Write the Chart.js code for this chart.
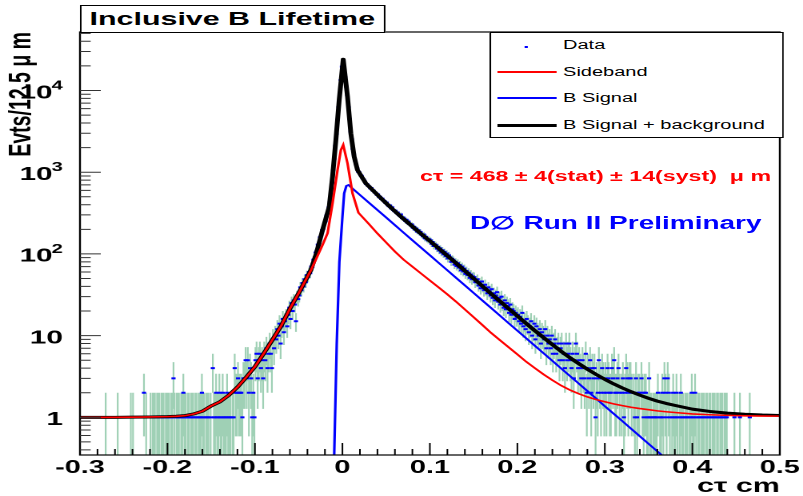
<!DOCTYPE html>
<html><head><meta charset="utf-8">
<script src="https://cdn.jsdelivr.net/npm/chart.js@4.4.1/dist/chart.umd.min.js"></script>
<style>
html,body{margin:0;padding:0;background:#fff;overflow:hidden;width:803px;height:496px;}
#wrap{position:absolute;left:0;top:0;width:502px;height:496px;transform:scaleX(1.5996);transform-origin:0 0;font-family:'Liberation Sans',Arial,sans-serif;}
#c{position:absolute;left:0;top:0;}
.box{position:absolute;background:#fff;border:1px solid #000;box-sizing:border-box;}
.t{position:absolute;white-space:pre;}
.ln{position:absolute;}
</style></head><body>
<div id="wrap">
<canvas id="c" width="502" height="496"></canvas>
<div class="box" style="left:49.5px;top:4.5px;width:191.5px;height:28px;text-align:center;font-weight:bold;font-size:19px;line-height:26px;">Inclusive B Lifetime</div>
<div class="box" style="left:305.9px;top:31.5px;width:184px;height:106px;"></div>
<div class="ln" style="left:328.2px;top:45.7px;width:1.4px;height:2px;background:#0000ff;"></div>
<div class="ln" style="left:310.7px;top:70.7px;width:36.9px;height:2px;background:#ff0000;"></div>
<div class="ln" style="left:310.7px;top:97.3px;width:36.9px;height:2px;background:#0000ff;"></div>
<div class="ln" style="left:310.7px;top:123.5px;width:36.9px;height:3px;background:#000;"></div>
<div class="t" style="left:352px;top:34.5px;height:20px;line-height:20px;font-size:12.5px;">Data</div>
<div class="t" style="left:352px;top:61.7px;height:20px;line-height:20px;font-size:12.5px;">Sideband</div>
<div class="t" style="left:352px;top:88px;height:20px;line-height:20px;font-size:12.5px;">B Signal</div>
<div class="t" style="left:352px;top:114.5px;height:20px;line-height:20px;font-size:12.5px;">B Signal + background</div>
<div class="t" style="left:262.6px;top:166.3px;height:20px;line-height:20px;font-size:14.5px;font-weight:bold;color:#ff0000;">cτ = 468 ± 4(stat) ± 14(syst)  μ m</div>
<div class="t" style="left:293.8px;top:211.3px;height:24px;line-height:24px;font-size:17.5px;font-weight:bold;color:#0000ff;">D∅ Run II Preliminary</div>
</div>
<script>
// histogram: 12.5 um bins from -0.3 cm
const binStart = -0.3;
const binWidth = 0.00125;
const countsA = [ // -0.30 .. -0.10
0,0,0,0,0,0,0,0,0,0, 0,0,0,0,0,0,0,0,0,0, 0,0,0,1,0,0,0,0,0,0, 0,0,0,0,1,0,0,0,0,0,
0,0,0,0,0,0,1,0,1,0, 0,0,0,0,0,0,0,0,2,0, 1,0,0,0,1,0,1,1,1,0, 1,1,1,0,1,1,1,0,1,1,
1,1,0,1,1,3,1,0,1,1, 1,0,1,1,2,1,1,0,1,1, 0,1,1,1,0,1,1,0,1,1, 1,2,1,1,0,1,1,1,0,1,
0,4,1,1,2,1,1,2,1,1, 2,1,1,1,2,1,1,1,0,1, 1,4,2,2,3,2,2,2,1,3, 3,5,3,5,2,4,3,1,2,1];
const countsB = [ // -0.10 .. 0.10
5,6,3,5,6,4,5,3,6,5, 7,4,6,8,6,4,9,7,10,9, 12,10,14,8,13,16,11,15,17,13, 18,22,16,25,20,27,24,15,30,28,
31,39,36,44,40,49,45,55,52,60, 58,70,69,85,86,104,108,130,134,160, 166,196,204,240,250,296,318,372,430,585, 730,1060,1460,2110,2930,4400,6280,9350,13450,19600,
22500,18900,14600,11150,8750,6270,4500,3140,2530,1930, 1650,1390,1250,1120,1010,995,920,905,840,815, 770,720,715,680,670,635,640,600,595,565, 560,530,535,495,500,470,475,450,445,420,
425,395,384,392,361,372,345,334,338,316, 321,300,292,304,275,280,271,254,262,240, 249,231,224,230,209,215,198,205,187,195, 180,186,171,165,173,155,162,150,146,151];
const countsC = [ // 0.10 .. 0.30
147,133,140,125,131,129,116,122,110,117, 104,111,99,106,94,101,88,96,91,80, 87,84,74,80,71,77,68,73,63,70, 61,66,57,62,55,59,51,56,49,53,
52,45,47,49,41,44,38,46,40,36, 42,37,33,39,35,31,37,29,33,27, 31,34,26,29,24,30,25,22,27,21, 25,23,19,24,18,21,20,16,19,17,
18,15,17,14,19,13,15,12,16,14, 11,13,15,10,12,14,9,13,11,10, 12,8,11,10,9,12,7,10,8,9, 7,10,6,8,9,6,7,8,5,7,
8,5,6,4,8,5,6,8,5,4, 6,3,5,8,6,4,5,4,3,5, 4,3,6,2,4,3,5,2,4,3, 4,1,3,2,5,3,2,4,3,2];
const countsD = [ // 0.30 .. 0.50
3,2,4,3,2,2,4,3,5,2, 2,3,4,2,0,2,3,1,2,4, 3,2,3,3,2,0,2,1,3,1, 2,2,0,3,2,1,2,2,1,1,
3,1,1,0,1,1,1,1,2,0, 1,1,2,1,3,2,1,3,2,1, 0,1,2,1,1,2,1,0,1,2, 1,1,0,1,1,1,0,1,1,2,
1,1,2,1,0,1,1,0,1,1, 1,0,1,1,0,1,1,0,1,1, 1,0,1,1,0,1,1,1,0,1, 1,1,0,0,0,0,0,0,1,0,
0,0,0,1,0,0,0,0,0,0, 0,0,1,0,0,0,0,0,0,0, 0,0,0,0,0,0,0,0,0,0, 0,0,0,0,0,0,0,0,0,0];

// fitted curves
const redX = [-0.30,-0.28,-0.26,-0.24,-0.22,-0.20,-0.19,-0.18,-0.17,-0.16,-0.15,-0.14,-0.13,-0.12,-0.11,-0.10,-0.09,-0.08,-0.07,-0.06,-0.05,-0.04,-0.036,-0.03,-0.0227,-0.017,-0.0113,-0.0056,-0.0018,0.0009,0.0058,0.0115,0.0183,0.03,0.04,0.05,0.06,0.07,0.08,0.09,0.10,0.11,0.12,0.13,0.14,0.15,0.16,0.17,0.18,0.19,0.20,0.21,0.22,0.23,0.24,0.25,0.26,0.27,0.28,0.29,0.30,0.31,0.32,0.33,0.34,0.35,0.36,0.37,0.38,0.40,0.42,0.44,0.46,0.48,0.50];
const redY = [1.0,1.0,1.0,1.005,1.01,1.02,1.03,1.05,1.10,1.19,1.38,1.55,1.86,2.34,3.09,4.17,6.03,8.9,13.2,21.4,33.1,52.5,63,87,129,179,416,1064,1870,2160,1285,552,319,234,178,138,107,85,70,57.5,47.3,38.9,32,26,20.9,16.8,13.5,10.8,8.8,7.2,5.9,4.8,4.0,3.35,2.85,2.45,2.16,1.95,1.78,1.65,1.55,1.46,1.39,1.33,1.28,1.24,1.20,1.17,1.146,1.10,1.076,1.057,1.045,1.038,1.035];
const blueX = [-0.011,-0.0094,-0.0065,-0.0035,0.0,0.002,0.0045,0.0069,0.01,0.02,0.03,0.04,0.05,0.06,0.07,0.08,0.09,0.10,0.11,0.12,0.13,0.14,0.15,0.16,0.17,0.18,0.19,0.20,0.21,0.22,0.23,0.24,0.25,0.26,0.27,0.28,0.29,0.30,0.31,0.32,0.33,0.34,0.35,0.36,0.37,0.38];
const blueY = [0.2,0.35,8,80,285,552,680,697,652,527,426,345,279,225,182,147,119,96.4,77.9,63,50.9,41.2,33.3,26.9,21.8,17.6,14.2,11.5,9.3,7.52,6.08,4.92,3.97,3.21,2.6,2.1,1.7,1.37,1.11,0.9,0.726,0.587,0.474,0.384,0.31,0.251];
const blackX = [-0.30,-0.28,-0.26,-0.24,-0.22,-0.20,-0.19,-0.18,-0.17,-0.16,-0.15,-0.14,-0.13,-0.12,-0.11,-0.10,-0.09,-0.08,-0.07,-0.06,-0.05,-0.04,-0.036,-0.03,-0.0227,-0.0151,-0.0113,-0.0075,-0.0037,0.0009,0.0058,0.0096,0.0134,0.0172,0.0267,0.0419,0.05,0.06,0.07,0.08,0.09,0.10,0.11,0.12,0.13,0.14,0.15,0.16,0.17,0.18,0.19,0.20,0.21,0.22,0.23,0.24,0.25,0.26,0.27,0.28,0.29,0.30,0.31,0.32,0.33,0.34,0.35,0.36,0.37,0.38,0.40,0.42,0.44,0.46,0.48,0.50];
const blackY = [1.0,1.0,1.0,1.005,1.01,1.02,1.03,1.05,1.10,1.19,1.38,1.55,1.86,2.34,3.09,4.17,6.03,8.9,13.2,21.4,33.1,52.5,64,100,196,378,881,2480,7650,24100,8400,2990,1550,1064,731,505,417,332,267,217,176,144,117,95,77,62,50,40.4,32.6,26.4,21.4,17.4,14.1,11.5,9.43,7.77,6.42,5.37,4.55,3.88,3.35,2.92,2.57,2.29,2.06,1.87,1.71,1.58,1.48,1.40,1.26,1.18,1.125,1.09,1.067,1.054];

const xTickValues = [-0.3,-0.2,-0.1,0,0.1,0.2,0.3,0.4,0.5];
const xTickLabels = ['-0.3','-0.2','-0.1','0','0.1','0.2','0.3','0.4','0.5'];
const yTickValues = [1,10,100,1000,10000];
const yTickBase = ['1','10','10','10','10'];
const yTickExp = ['','','2','3','4'];
const xMin = -0.3, xMax = 0.5, yMin = 0.346, yMax = 52000;

const counts = countsA.concat(countsB, countsC, countsD);
const toXY = (xs, ys) => xs.map((x, i) => ({x: x, y: ys[i]}));
const dataPts = [], errPts = [];
counts.forEach((n, i) => {
  if (n > 0) {
    const x = binStart + (i + 0.5) * binWidth;
    const e = Math.sqrt(n);
    dataPts.push({x: x, y: n});
    errPts.push({x: x, y: Math.max(n - e, 0.01)}, {x: x, y: n + e}, {x: x, y: null});
  }
});

const FONT = "'Liberation Sans', Arial, sans-serif";
const framePlugin = {
  id: 'frame',
  afterDatasetsDraw(chart) {
    const {ctx, chartArea: a, scales: {x, y}} = chart;
    ctx.save();
    ctx.lineWidth = 1.2; ctx.strokeStyle = '#000';
    ctx.strokeRect(a.left, a.top, a.right - a.left, a.bottom - a.top);
    ctx.lineWidth = 1;
    ctx.beginPath();
    for (let k = 0; k <= 40; k++) {
      const px = x.getPixelForValue(-0.3 + k * 0.02);
      const len = (k % 5 === 0) ? 12 : 6;
      ctx.moveTo(px, a.bottom); ctx.lineTo(px, a.bottom - len);
    }
    ctx.stroke();
    ctx.strokeStyle = '#333';
    ctx.beginPath();
    for (let d = -1; d <= 4; d++) for (let m = 1; m <= 9; m++) {
      const v = m * Math.pow(10, d);
      if (v < y.min || v > y.max) continue;
      const py = y.getPixelForValue(v);
      const len = (m === 1) ? 13 : 6.7;
      ctx.moveTo(a.left, py); ctx.lineTo(a.left + len, py);
    }
    ctx.stroke();
    // y tick labels with superscript exponents
    ctx.fillStyle = '#000';
    ctx.textBaseline = 'alphabetic';
    const right = 39.3;
    yTickValues.forEach((v, i) => {
      const py = y.getPixelForValue(v);
      const exp = yTickExp[i];
      let xr = right;
      if (exp) {
        ctx.font = 'bold 12.6px ' + FONT;
        const w = ctx.measureText(exp).width;
        ctx.textAlign = 'left';
        ctx.fillText(exp, right - w, py - 1);
        xr = right - w + 0.6;
      }
      ctx.font = 'bold 18.6px ' + FONT;
      ctx.textAlign = 'right';
      ctx.fillText(yTickBase[i], xr, py + 7.8);
    });
    ctx.restore();
  }
};

Chart.defaults.font.family = FONT;
new Chart(document.getElementById('c'), {
  type: 'line',
  data: {datasets: [
    {label: 'Sideband', data: toXY(redX, redY), borderColor: '#ff0000', borderWidth: 1.6, pointRadius: 0, tension: 0, clip: 0},
    {label: 'B Signal', data: toXY(blueX, blueY), borderColor: '#0000ff', borderWidth: 1.6, pointRadius: 0, tension: 0, clip: 0},
    {label: 'B Signal + background', data: toXY(blackX, blackY), borderColor: '#000000', borderWidth: 3, pointRadius: 0, tension: 0, borderJoinStyle: 'round', clip: 0},
    {label: 'Data', data: dataPts, showLine: false, pointStyle: 'line', pointRadius: 1.3, pointBorderWidth: 2, pointBorderColor: '#0000ff', pointBackgroundColor: '#0000ff', clip: 0},
    {label: 'errors', data: errPts, borderColor: 'rgba(80,170,120,0.55)', borderWidth: 1.1, pointRadius: 0, spanGaps: false, tension: 0, clip: 0}
  ]},
  options: {
    responsive: false, animation: false, devicePixelRatio: 2,
    layout: {padding: {left: 0, right: 13, top: 32, bottom: 0}},
    plugins: {legend: {display: false}, tooltip: {enabled: false}},
    scales: {
      x: {type: 'linear', min: xMin, max: xMax, bounds: 'data',
        afterBuildTicks: s => { s.ticks = xTickValues.map(v => ({value: v})); s.min = xMin; s.max = xMax; },
        afterFit: s => { s.height = 41; },
        ticks: {autoSkip: false, maxRotation: 0, padding: 2, color: '#000', font: {size: 18, weight: 'bold'}, callback: (v, i) => xTickLabels[i]},
        grid: {display: false, drawTicks: false}, border: {display: false},
        title: {display: true, text: 'c\u03C4 cm', align: 'end', color: '#000', font: {size: 19, weight: 'bold'}, padding: {top: 0, bottom: -2}}
      },
      y: {type: 'logarithmic', min: yMin, max: yMax, bounds: 'data',
        afterBuildTicks: s => { s.ticks = yTickValues.map(v => ({value: v})); s.min = yMin; s.max = yMax; },
        afterFit: s => { s.width = 50; },
        ticks: {display: false},
        grid: {display: false, drawTicks: false}, border: {display: false},
        title: {display: true, text: 'Evts/12.5 \u03BC m', align: 'end', color: '#000', font: {size: 19.5, weight: 'bold'}, padding: {top: 1.7, bottom: 0}}
      }
    }
  },
  plugins: [framePlugin]
});
</script>
</body></html>
